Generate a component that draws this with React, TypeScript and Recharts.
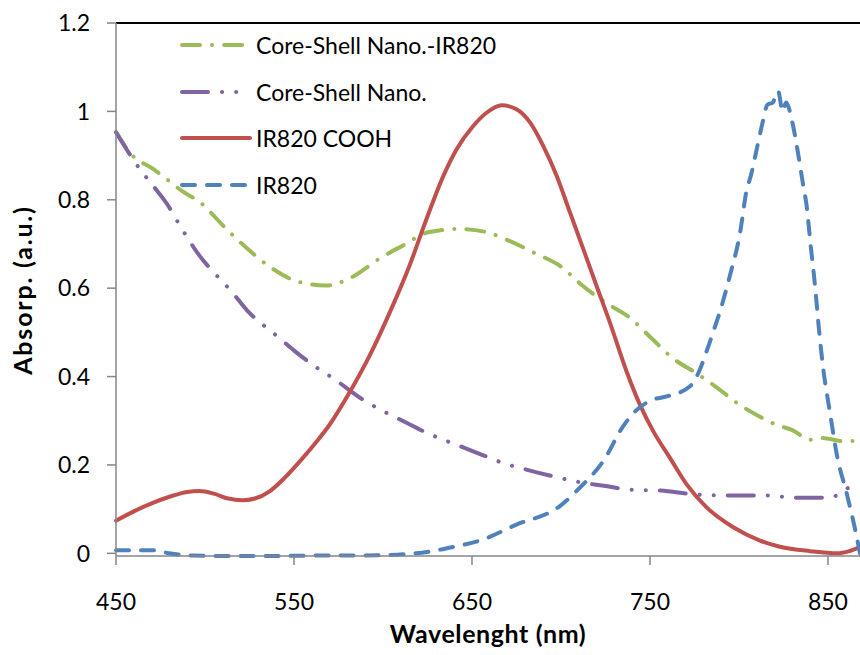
import { Legend, Line, LineChart, ReferenceLine, XAxis, YAxis } from 'recharts';

const FONT = 'Lato, "Noto Sans", sans-serif';

const xTicks = [450, 550, 650, 750, 850];
const yTicks = [0, 0.2, 0.4, 0.6, 0.8, 1, 1.2];

// Core-Shell Nano.-IR820
const csIrNm = [450, 459.5, 470, 480, 487, 497, 512, 522, 538, 552, 568, 583, 598, 611, 626, 643, 658, 671, 686, 700, 712, 726, 739, 751, 763, 776, 788, 799, 810, 821, 830, 840, 847, 858, 868];
const csIrAbs = [0.953, 0.899, 0.872, 0.842, 0.82, 0.795, 0.734, 0.696, 0.644, 0.615, 0.606, 0.626, 0.667, 0.696, 0.727, 0.734, 0.727, 0.707, 0.678, 0.649, 0.606, 0.565, 0.532, 0.486, 0.441, 0.408, 0.374, 0.34, 0.313, 0.291, 0.279, 0.257, 0.261, 0.254, 0.254];

// Core-Shell Nano.
const csNm = [450, 463.5, 471, 478.6, 486, 497, 506.7, 515, 523.6, 535, 540, 550.6, 560.7, 572, 589, 600, 611, 625, 643, 655.6, 667, 681, 699, 712, 724, 739, 756, 776, 795, 814, 833, 851, 862, 868];
const csAbs = [0.953, 0.869, 0.831, 0.791, 0.741, 0.673, 0.628, 0.592, 0.55, 0.509, 0.493, 0.457, 0.426, 0.396, 0.347, 0.322, 0.3, 0.272, 0.243, 0.223, 0.205, 0.189, 0.171, 0.16, 0.153, 0.144, 0.142, 0.133, 0.131, 0.131, 0.126, 0.126, 0.149, 0.155];

// IR820 COOH
const coohNm = [450, 460, 470, 480, 490, 497, 505, 513, 521, 528, 536.5, 545, 555, 562.5, 570, 581.5, 592.7, 604, 615, 624.5, 633.8, 641.3, 650.7, 658.2, 666.6, 675, 682.6, 690, 697.6, 705, 712.5, 720, 727.5, 736.9, 744.4, 751.9, 761.2, 770.6, 781.8, 796.8, 811.8, 823, 840, 855, 862, 868];
const coohAbs = [0.074, 0.095, 0.113, 0.128, 0.139, 0.141, 0.135, 0.124, 0.12, 0.124, 0.141, 0.172, 0.216, 0.252, 0.291, 0.366, 0.449, 0.547, 0.652, 0.757, 0.853, 0.914, 0.967, 0.997, 1.014, 1.005, 0.975, 0.922, 0.854, 0.772, 0.689, 0.605, 0.522, 0.411, 0.336, 0.276, 0.216, 0.156, 0.104, 0.059, 0.029, 0.015, 0.005, 0.0, 0.005, 0.014];

// IR820
const irNm = [450, 471, 480, 493, 513, 540, 563, 585, 608, 626, 640, 654.5, 675, 699.4, 710.7, 723.8, 735, 741.6, 751.9, 759.4, 772.5, 777.2, 781.8, 785.6, 789.3, 795, 800.6, 804, 807, 810, 813, 816, 819, 822, 824.5, 826.5, 830, 833, 836, 838, 840.2, 842.7, 844.9, 847.3, 851, 855, 860.7, 865, 868];
const irAbs = [0.007, 0.007, 0.0, -0.005, -0.006, -0.006, -0.005, -0.005, -0.003, 0.004, 0.015, 0.029, 0.065, 0.107, 0.149, 0.209, 0.288, 0.321, 0.348, 0.355, 0.378, 0.408, 0.457, 0.502, 0.547, 0.63, 0.725, 0.815, 0.86, 0.915, 0.97, 1.015, 1.02, 1.046, 1.0, 1.02, 0.975, 0.91, 0.835, 0.787, 0.7, 0.607, 0.509, 0.419, 0.322, 0.223, 0.133, 0.059, 0.0];

const toPoints = (nm: number[], abs: number[]) => nm.map((w, i) => ({ nm: w, abs: abs[i] }));

const series = [
  { name: 'Core-Shell Nano.-IR820', color: '#9BBB59', dash: '18 12 0.1 12', data: toPoints(csIrNm, csIrAbs) },
  { name: 'Core-Shell Nano.', color: '#8064A2', dash: '26 14 0.1 14 0.1 14', data: toPoints(csNm, csAbs) },
  { name: 'IR820 COOH', color: '#C0504D', dash: undefined, data: toPoints(coohNm, coohAbs) },
  { name: 'IR820', color: '#4F81BD', dash: '13 12', data: toPoints(irNm, irAbs) },
];

const titleStyle = { fontFamily: FONT, fontSize: 25, fontWeight: 700, fill: '#000' };

const renderLegend = () => (
  <div style={{ fontFamily: FONT, fontSize: 23, color: '#000' }}>
    {series.map((s) => (
      <div key={s.name} style={{ display: 'flex', alignItems: 'center', height: 46.5 }}>
        <svg width={76} height={10} style={{ flex: 'none' }}>
          <line
            x1={2}
            y1={5}
            x2={70}
            y2={5}
            stroke={s.color}
            strokeWidth={4}
            strokeLinecap="round"
            strokeDasharray={s.dash}
          />
        </svg>
        <span style={{ lineHeight: '28px', whiteSpace: 'nowrap' }}>{s.name}</span>
      </div>
    ))}
  </div>
);

const yTitle = () => (
  <text
    x={32}
    y={290}
    transform="rotate(-90 32 290)"
    textAnchor="middle"
    style={{ ...titleStyle, letterSpacing: 1.8 }}
  >
    Absorp. (a.u.)
  </text>
);

const fmtY = (v: number) => (v === 0 || v === 1 ? String(v) : v.toFixed(1));

export default function App() {
  return (
    <div style={{ position: 'absolute', left: 0, top: 0 }}>
      <LineChart width={860} height={655} margin={{ top: 23, right: 0, bottom: 0, left: 0 }}>
        <XAxis
          type="number"
          dataKey="nm"
          domain={[450, 868]}
          ticks={xTicks}
          interval={0}
          height={99}
          tickSize={9}
          tickMargin={29}
          axisLine={{ stroke: '#868686', strokeWidth: 1.5 }}
          tickLine={{ stroke: '#868686', strokeWidth: 1.5 }}
          tick={{ fill: '#000', fontSize: 23, fontFamily: FONT }}
          label={{
            value: 'Wavelenght (nm)',
            position: 'insideBottom',
            offset: 12,
            style: { ...titleStyle, letterSpacing: 0.6 },
          }}
        />
        <YAxis
          type="number"
          domain={[0, 1.2]}
          ticks={yTicks}
          interval={0}
          width={116}
          tickSize={9}
          tickMargin={17}
          tickFormatter={fmtY}
          axisLine={{ stroke: '#868686', strokeWidth: 1.5 }}
          tickLine={{ stroke: '#868686', strokeWidth: 1.5 }}
          tick={{ fill: '#000', fontSize: 23, fontFamily: FONT }}
          label={yTitle}
        />
        <ReferenceLine y={1.2} stroke="#000" strokeWidth={2} />
        {series.map((s) => (
          <Line
            key={s.name}
            name={s.name}
            data={s.data}
            dataKey="abs"
            type="monotone"
            stroke={s.color}
            strokeWidth={4}
            strokeDasharray={s.dash}
            strokeLinecap="round"
            dot={false}
            activeDot={false}
            isAnimationActive={false}
          />
        ))}
        <Legend
          layout="horizontal"
          verticalAlign="middle"
          align="center"
          wrapperStyle={{ top: 22, left: 180, width: 360, height: 190 }}
          content={renderLegend}
        />
      </LineChart>
    </div>
  );
}
